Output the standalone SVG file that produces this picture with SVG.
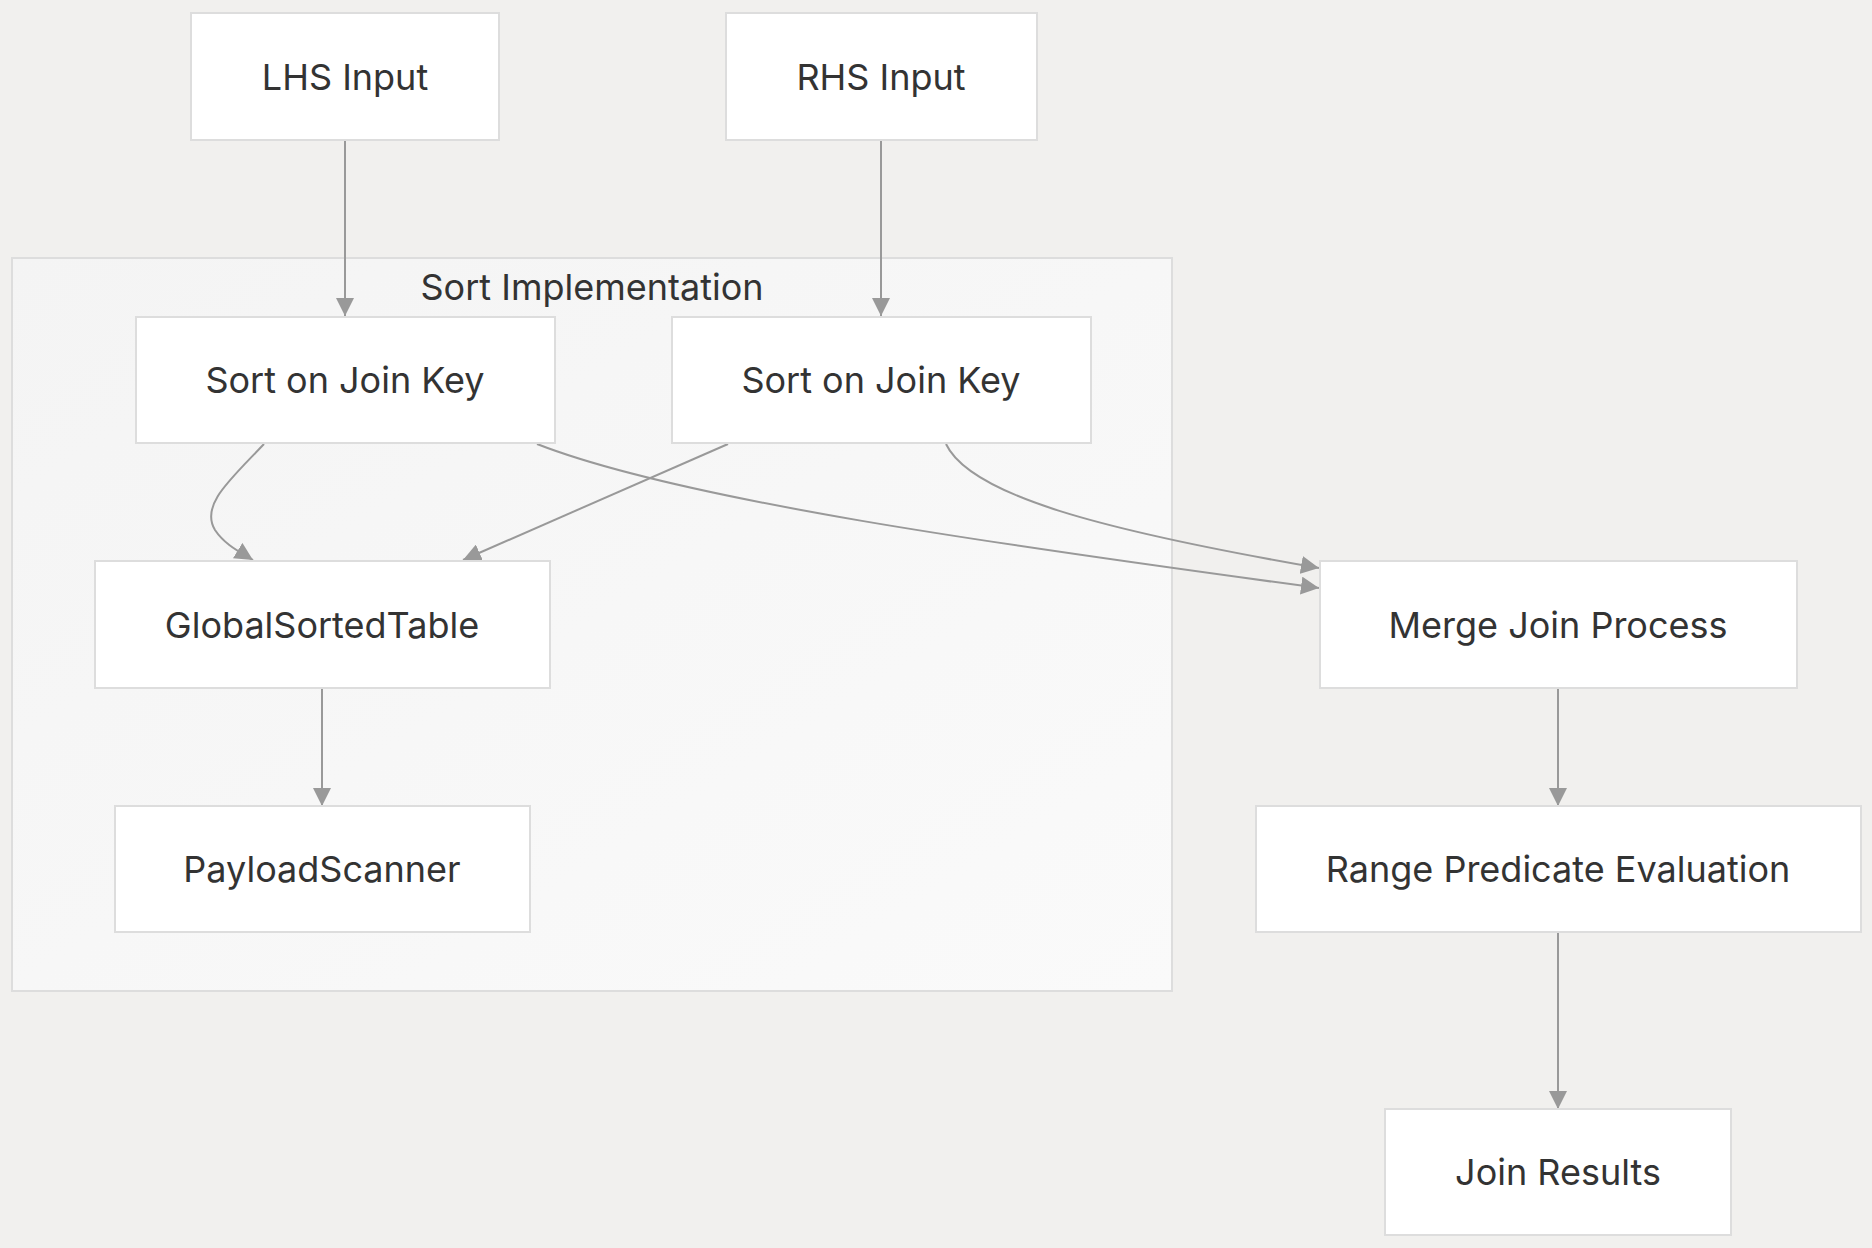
<svg xmlns="http://www.w3.org/2000/svg" width="1872" height="1248" viewBox="0 0 1872 1248">
<defs>
<marker id="arr" viewBox="0 0 12 12" refX="12" refY="6" markerWidth="18" markerHeight="18" markerUnits="userSpaceOnUse" orient="auto">
<path d="M0,0 L12,6 L0,12 z" fill="#999"/>
</marker>
<linearGradient id="cg" x1="0" y1="0" x2="1" y2="1">
<stop offset="0" stop-color="#f4f4f4"/>
<stop offset="1" stop-color="#fafafa"/>
</linearGradient>
</defs>
<style>
.node rect{fill:#ffffff;stroke:#dddddd;stroke-width:2}
.node text,.cl text{font-family:Inter,"Noto Sans",sans-serif;font-size:36px;fill:#333333;text-anchor:middle;dominant-baseline:central}
.edges path{fill:none;stroke:#999999;stroke-width:2;marker-end:url(#arr)}
</style>
<rect width="1872" height="1248" fill="#f1f0ee"/>
<g id="cluster-sort" class="cl">
<rect x="12" y="258" width="1160" height="733" fill="url(#cg)" stroke="#dddddd" stroke-width="2"/>
<text x="592" y="287">Sort Implementation</text>
</g>
<g class="edges" id="edges">
<path d="M345,140 L345,316"/>
<path d="M881,140 L881,316"/>
<path d="M264,444 C230,480 200,505 215,530 C225,545 240,552 253,560"/>
<path d="M728,444 L463,560"/>
<path d="M537,444 C680,500 1000,545 1319,588"/>
<path d="M946,444 C970,495 1100,530 1319,568"/>
<path d="M322,688 L322,806"/>
<path d="M1558,688 L1558,806"/>
<path d="M1558,932 L1558,1109"/>
</g>
<g id="lhs" class="node"><rect x="191" y="13" width="308" height="127"/><text x="345" y="77">LHS Input</text></g>
<g id="rhs" class="node"><rect x="726" y="13" width="311" height="127"/><text x="881" y="77">RHS Input</text></g>
<g id="sort1" class="node"><rect x="136" y="317" width="419" height="126"/><text x="345" y="380">Sort on Join Key</text></g>
<g id="sort2" class="node"><rect x="672" y="317" width="419" height="126"/><text x="881" y="380">Sort on Join Key</text></g>
<g id="gst" class="node"><rect x="95" y="561" width="455" height="127"/><text x="322" y="625">GlobalSortedTable</text></g>
<g id="ps" class="node"><rect x="115" y="806" width="415" height="126"/><text x="322" y="869">PayloadScanner</text></g>
<g id="merge" class="node"><rect x="1320" y="561" width="477" height="127"/><text x="1558" y="625">Merge Join Process</text></g>
<g id="range" class="node"><rect x="1256" y="806" width="605" height="126"/><text x="1558" y="869">Range Predicate Evaluation</text></g>
<g id="results" class="node"><rect x="1385" y="1109" width="346" height="126"/><text x="1558" y="1172">Join Results</text></g>
</svg>
